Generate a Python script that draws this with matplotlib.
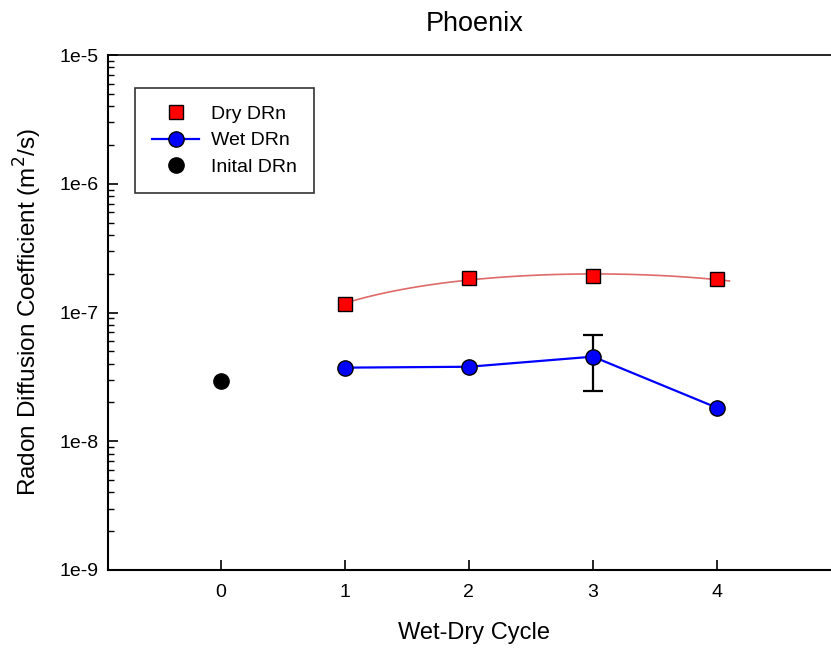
import numpy as np
import matplotlib
matplotlib.use("Agg")
import matplotlib.pyplot as plt
from matplotlib.ticker import FixedLocator, FuncFormatter, LogLocator, NullFormatter

plt.rcParams['font.family'] = ['Liberation Sans', 'DejaVu Sans']

# data
dry_cycle = [1, 2, 3, 4]
dry_drn = [1.16e-7, 1.85e-7, 1.93e-7, 1.82e-7]

wet_cycle = [1, 2, 3, 4]
wet_drn = [3.73e-8, 3.79e-8, 4.54e-8, 1.82e-8]

# only cycle 3 carries an error bar
err_cycle = [3]
err_drn = [4.54e-8]
err_size = [2.1e-8]

init_cycle = [0]
init_drn = [2.95e-8]

x_ticks = [0, 1, 2, 3, 4]
y_ticks = [1e-9, 1e-8, 1e-7, 1e-6, 1e-5]

fig = plt.figure(figsize=(8.31, 6.51), dpi=100)
ax = fig.add_axes([108 / 831, 81 / 651, 733 / 831, 515 / 651])

# quadratic regression through the dry points (as drawn in the original)
coef = np.polyfit(dry_cycle, dry_drn, 2)
fit_x = np.linspace(1, 4.1, 100)
ax.plot(fit_x, np.polyval(coef, fit_x), color='#e06a6a', lw=1.2, zorder=2)
ax.plot(dry_cycle, dry_drn, 's', color='red', mec='black', mew=1.0, ms=9.5,
        zorder=4, label='Dry DRn')

ax.plot(wet_cycle, wet_drn, '-o', color='blue', lw=1.6, mfc='blue', mec='black',
        mew=1.0, ms=11, zorder=4, label='Wet DRn')
ax.errorbar(err_cycle, err_drn, yerr=err_size, fmt='none', ecolor='black',
            elinewidth=1.6, capsize=7, capthick=1.6, zorder=3)

ax.plot(init_cycle, init_drn, 'o', color='black', ms=11, zorder=4, label='Inital DRn')

ax.set_yscale('log')
ax.set_ylim(1e-9, 1e-5)
ax.set_xlim(-0.91, 5.0)

ax.yaxis.set_major_locator(FixedLocator(y_ticks))
ax.yaxis.set_major_formatter(FuncFormatter(lambda v, p: f"1e{int(round(np.log10(v)))}"))
ax.yaxis.set_minor_locator(LogLocator(base=10, subs=np.arange(2, 10)))
ax.yaxis.set_minor_formatter(NullFormatter())
ax.xaxis.set_major_locator(FixedLocator(x_ticks))

ax.tick_params(axis='both', which='major', direction='in', length=7, width=1.2,
               labelsize=14, colors='black')
ax.tick_params(axis='y', which='major', pad=7)
ax.tick_params(axis='y', which='minor', direction='in', length=4, width=1.0)
ax.tick_params(axis='x', pad=10)

for side in ['left', 'bottom']:
    ax.spines[side].set_linewidth(1.5)
ax.spines['top'].set_linewidth(1.2)
ax.spines['right'].set_visible(False)

ax.set_xlabel('Wet-Dry Cycle', fontsize=17, labelpad=15)
ax.set_ylabel('Radon Diffusion Coefficient (m$^2$/s)', fontsize=17.5, labelpad=11)
ax.set_title('Phoenix', fontsize=19.5, pad=17)

leg = ax.legend(loc='upper left', bbox_to_anchor=(27 / 733, 1 - 33 / 515),
                fontsize=14, frameon=True, fancybox=False, edgecolor='black',
                borderpad=0.9, handlelength=2.4, handletextpad=0.6,
                labelspacing=0.45, borderaxespad=0)
leg.get_frame().set_linewidth(1.2)

fig.savefig('out.png', dpi=100)
